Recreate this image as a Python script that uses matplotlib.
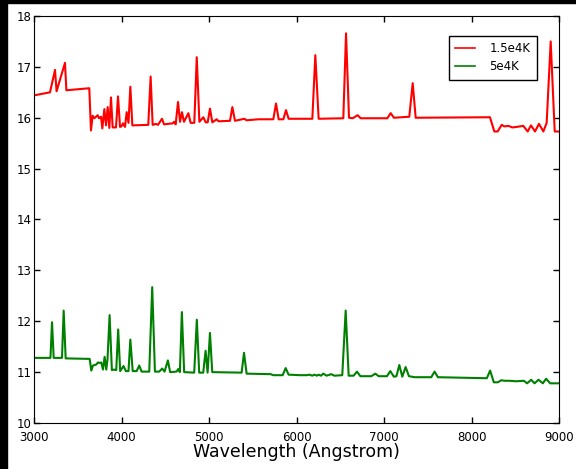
import matplotlib
matplotlib.use("Agg")
import matplotlib.pyplot as plt
from matplotlib.patches import Rectangle

# 1.5e4K spectrum
wl_hot = [3000, 3183, 3240, 3258, 3354, 3370, 3632, 3651, 3670, 3690, 3728, 3743, 3766, 3781,
          3804, 3823, 3842, 3861, 3880, 3899, 3937, 3960, 3983, 4000, 4017, 4040, 4059, 4080,
          4101, 4124, 4306, 4333, 4356, 4394, 4417, 4463, 4486, 4585, 4600, 4619, 4646, 4669,
          4691, 4714, 4764, 4790, 4832, 4860, 4890, 4935, 4962, 4985, 5011, 5038, 5088, 5110,
          5240, 5267, 5297, 5404, 5430, 5564, 5735, 5766, 5796, 5850, 5880, 5910, 6181, 6215,
          6253, 6535, 6566, 6600, 6642, 6699, 6733, 7038, 7076, 7114, 7289, 7328, 7362, 8211,
          8261, 8299, 8345, 8375, 8421, 8467, 8516, 8592, 8642, 8680, 8726, 8771, 8821, 8859,
          8905, 8951, 9000]
flux_hot = [16.44, 16.50, 16.94, 16.52, 17.08, 16.54, 16.58, 15.75, 16.04, 15.99, 16.05, 15.99, 16.02, 15.79,
            16.17, 15.85, 16.21, 15.80, 16.40, 15.81, 15.81, 16.42, 15.82, 15.83, 15.89, 15.82, 16.11, 15.90,
            16.61, 15.85, 15.86, 16.81, 15.86, 15.88, 15.86, 15.98, 15.87, 15.89, 15.92, 15.87, 16.31, 15.92,
            16.11, 15.92, 16.09, 15.90, 15.90, 17.19, 15.92, 16.01, 15.91, 15.91, 16.18, 15.91, 15.97, 15.93,
            15.94, 16.21, 15.94, 15.98, 15.95, 15.97, 15.97, 16.28, 15.97, 15.97, 16.15, 15.98, 15.98, 17.23,
            15.98, 15.99, 17.66, 16.00, 15.99, 16.05, 15.99, 15.99, 16.09, 16.00, 16.02, 16.68, 16.00, 16.01,
            15.73, 15.73, 15.86, 15.83, 15.84, 15.81, 15.82, 15.84, 15.73, 15.85, 15.73, 15.88, 15.73, 15.90,
            17.50, 15.73, 15.73]

# 5e4K spectrum
wl_cool = [3000, 3188, 3206, 3225, 3320, 3339, 3362, 3636, 3655, 3674, 3712, 3731, 3750, 3769,
           3788, 3807, 3826, 3840, 3864, 3890, 3913, 3940, 3962, 3985, 4023, 4050, 4080, 4101,
           4128, 4173, 4203, 4230, 4317, 4351, 4382, 4431, 4465, 4492, 4530, 4556, 4629, 4648,
           4667, 4690, 4716, 4831, 4861, 4888, 4934, 4961, 4984, 5011, 5037, 5373, 5400, 5430,
           5704, 5735, 5842, 5876, 5910, 6040, 6116, 6150, 6180, 6206, 6233, 6253, 6280, 6306,
           6344, 6397, 6432, 6523, 6562, 6596, 6653, 6691, 6730, 6855, 6901, 6939, 7034, 7072,
           7113, 7142, 7175, 7209, 7247, 7285, 7350, 7540, 7578, 7616, 8175, 8213, 8255, 8301,
           8339, 8377, 8434, 8510, 8598, 8636, 8682, 8720, 8766, 8815, 8853, 8899, 8947, 9000]
flux_cool = [11.28, 11.28, 11.98, 11.28, 11.28, 12.21, 11.27, 11.26, 11.03, 11.13, 11.15, 11.19, 11.18, 11.19,
             11.05, 11.30, 11.05, 11.25, 12.12, 11.04, 11.05, 11.04, 11.84, 11.02, 11.12, 11.02, 11.02, 11.64,
             11.02, 11.02, 11.13, 11.01, 11.01, 12.67, 11.01, 11.01, 11.07, 11.01, 11.23, 11.00, 11.01, 11.06,
             11.00, 12.18, 11.00, 10.99, 12.03, 10.99, 10.99, 11.42, 10.99, 11.77, 11.00, 10.99, 11.38, 10.97,
             10.96, 10.94, 10.94, 11.08, 10.95, 10.94, 10.94, 10.95, 10.93, 10.95, 10.93, 10.95, 10.93, 10.97,
             10.93, 10.96, 10.93, 10.94, 12.21, 10.93, 10.93, 11.01, 10.92, 10.92, 10.97, 10.92, 10.92, 11.02,
             10.91, 10.92, 11.14, 10.91, 11.10, 10.92, 10.90, 10.90, 11.01, 10.90, 10.88, 11.03, 10.80, 10.80,
             10.84, 10.83, 10.83, 10.82, 10.83, 10.78, 10.85, 10.78, 10.85, 10.78, 10.87, 10.78, 10.78, 10.78]

labels = ['1.5e4K', '5e4K']

fig = plt.figure(figsize=(5.76, 4.69), dpi=100)
fig.patch.set_facecolor('white')
# dark strip at the left and top edge as in the source image
fig.patches.append(Rectangle((0, 0), 7 / 576, 1, transform=fig.transFigure, color='black', zorder=-1))
fig.patches.append(Rectangle((0, 1 - 3 / 469), 1, 3 / 469, transform=fig.transFigure, color='black', zorder=-1))

ax = fig.add_axes([34 / 576, 1 - 423 / 469, 525 / 576, 407 / 469])
ax.plot(wl_hot, flux_hot, color='r', lw=1.5, label=labels[0])
ax.plot(wl_cool, flux_cool, color=(0, 0.5, 0), lw=1.5, label=labels[1])

ax.set_xlim(3000, 9000)
ax.set_ylim(10, 18)
ax.set_xticks(range(3000, 9001, 1000))
ax.set_yticks(range(10, 19))
ax.tick_params(direction='in', top=True, right=True, length=4, width=1, labelsize=8.5)
ax.tick_params(axis='x', pad=6)
ax.tick_params(axis='y', pad=2)
ax.set_xlabel('Wavelength (Angstrom)', fontsize=12.5, labelpad=-1)

leg = ax.legend(loc='upper right', bbox_to_anchor=(0.958, 0.952), borderaxespad=0, fontsize=8.5,
                fancybox=False, framealpha=1, edgecolor='black', handlelength=1.7, handletextpad=1.2,
                borderpad=0.55, labelspacing=0.45)
leg.get_frame().set_linewidth(1)
for h in leg.get_lines():
    h.set_linewidth(1.2)

fig.savefig('out.png', dpi=100)
